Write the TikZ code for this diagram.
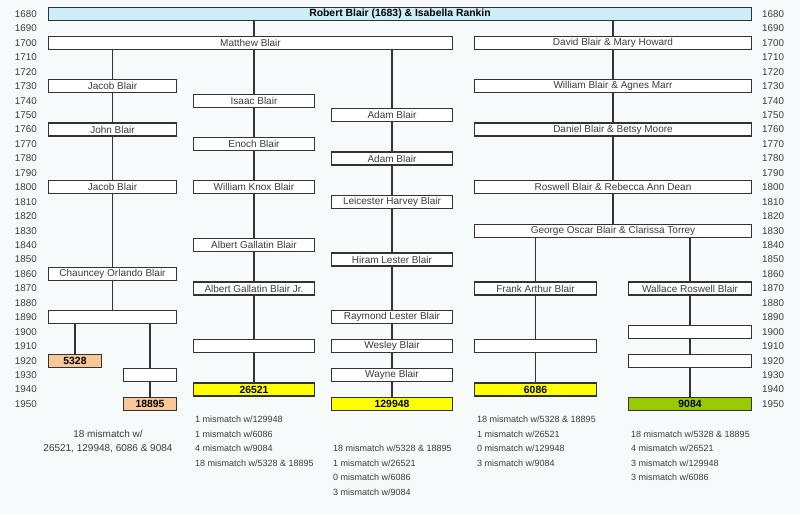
\documentclass[tikz,border=0pt]{standalone}
\usepackage{fontspec}
\setmainfont{Liberation Sans}
\definecolor{kinbg}{RGB}{247,250,250}
\definecolor{kinblue}{RGB}{204,238,248}
\definecolor{kinpeach}{RGB}{248,200,152}
\definecolor{kinyellow}{RGB}{255,255,0}
\definecolor{kingreen}{RGB}{153,204,0}
\definecolor{kinline}{RGB}{51,51,51}
\definecolor{kintext}{RGB}{60,60,60}

\begin{document}
\begin{tikzpicture}[x=1pt,y=1pt,
    person/.style={draw=kinline,line width=1.2pt,fill=white,minimum height=13pt,
        inner sep=0pt,font=\fontsize{10}{12}\selectfont,text=kintext},
    kit/.style={person,font=\fontsize{10.4}{12}\selectfont\bfseries,text=black},
    yearlbl/.style={font=\fontsize{9.8}{12}\selectfont,text=kintext,inner sep=0pt},
    note/.style={font=\fontsize{9}{11}\selectfont,text=kintext,inner sep=0pt,anchor=west},
    link/.style={draw=kinline,line width=1.2pt}]
    \fill[kinbg] (0,0) rectangle (800,-514);

    % one year = 1.4444pt, 1680 sits 14pt below the top edge
    \begin{scope}[y=-1.4444pt,yshift=2412.6pt]
    \foreach \yr in {1680,1690,...,1950} {
        \node[yearlbl,anchor=east] (yl\yr) at (37,\yr) {\yr};
        \node[yearlbl,anchor=west] (yr\yr) at (762,\yr) {\yr};
    }

    \node[kit,fill=kinblue,minimum width=703pt] (robert) at (400,1680) {Robert Blair (1683) \& Isabella Rankin};
    \node[person,minimum width=404pt] (matthew) at (250.5,1700) {Matthew Blair};
    \node[person,minimum width=277pt] (david) at (613,1700) {David Blair \& Mary Howard};

    % Jacob line
    \node[person,minimum width=128pt] (jacobA) at (112.5,1730) {Jacob Blair};
    \node[person,minimum width=128pt] (john) at (112.5,1760) {John Blair};
    \node[person,minimum width=128pt] (jacobB) at (112.5,1800) {Jacob Blair};
    \node[person,minimum width=128pt] (chauncey) at (112.5,1860) {Chauncey Orlando Blair};
    \node[person,minimum width=128pt] (blankA) at (112.5,1890) {};
    \node[kit,fill=kinpeach,minimum width=53pt] (k5328) at (75,1920) {5328};
    \node[person,minimum width=53pt] (blankB) at (150,1930) {};
    \node[kit,fill=kinpeach,minimum width=53pt] (k18895) at (150,1950) {18895};

    % Isaac line
    \node[person,minimum width=121pt] (isaac) at (254,1740) {Isaac Blair};
    \node[person,minimum width=121pt] (enoch) at (254,1770) {Enoch Blair};
    \node[person,minimum width=121pt] (wknox) at (254,1800) {William Knox Blair};
    \node[person,minimum width=121pt] (albert) at (254,1840) {Albert Gallatin Blair};
    \node[person,minimum width=121pt] (albertjr) at (254,1870) {Albert Gallatin Blair Jr.};
    \node[person,minimum width=121pt] (blankC) at (254,1910) {};
    \node[kit,fill=kinyellow,minimum width=121pt] (k26521) at (254,1940) {26521};

    % Adam line
    \node[person,minimum width=121pt] (adamA) at (392,1750) {Adam Blair};
    \node[person,minimum width=121pt] (adamB) at (392,1780) {Adam Blair};
    \node[person,minimum width=121pt] (leicester) at (392,1810) {Leicester Harvey Blair};
    \node[person,minimum width=121pt] (hiram) at (392,1850) {Hiram Lester Blair};
    \node[person,minimum width=121pt] (raymond) at (392,1890) {Raymond Lester Blair};
    \node[person,minimum width=121pt] (wesley) at (392,1910) {Wesley Blair};
    \node[person,minimum width=121pt] (wayne) at (392,1930) {Wayne Blair};
    \node[kit,fill=kinyellow,minimum width=121pt] (k129948) at (392,1950) {129948};

    % David line
    \node[person,minimum width=277pt] (william) at (613,1730) {William Blair \& Agnes Marr};
    \node[person,minimum width=277pt] (daniel) at (613,1760) {Daniel Blair \& Betsy Moore};
    \node[person,minimum width=277pt] (roswell) at (613,1800) {Roswell Blair \& Rebecca Ann Dean};
    \node[person,minimum width=277pt] (george) at (613,1830) {George Oscar Blair \& Clarissa Torrey};
    \node[person,minimum width=122pt] (frank) at (535.5,1870) {Frank Arthur Blair};
    \node[person,minimum width=122pt] (blankD) at (535.5,1910) {};
    \node[kit,fill=kinyellow,minimum width=122pt] (k6086) at (535.5,1940) {6086};
    \node[person,minimum width=123pt] (wallace) at (690,1870) {Wallace Roswell Blair};
    \node[person,minimum width=123pt] (blankE) at (690,1900) {};
    \node[person,minimum width=123pt] (blankF) at (690,1920) {};
    \node[kit,fill=kingreen,minimum width=123pt] (k9084) at (690,1950) {9084};

    \draw[link] (robert.south -| isaac) -- (matthew.north -| isaac);
    \draw[link] (robert.south -| david) -- (david);
    \draw[link] (matthew.south -| jacobA) -- (jacobA) -- (john) -- (jacobB) -- (chauncey) -- (blankA);
    \draw[link] (blankA.south -| k5328) -- (k5328);
    \draw[link] (blankA.south -| blankB) -- (blankB) -- (k18895);
    \draw[link] (matthew.south -| isaac) -- (isaac) -- (enoch) -- (wknox) -- (albert) -- (albertjr) -- (blankC) -- (k26521);
    \draw[link] (matthew.south -| adamA) -- (adamA) -- (adamB) -- (leicester) -- (hiram) -- (raymond) -- (wesley) -- (wayne) -- (k129948);
    \draw[link] (david) -- (william) -- (daniel) -- (roswell) -- (george);
    \draw[link] (george.south -| frank) -- (frank) -- (blankD) -- (k6086);
    \draw[link] (george.south -| wallace) -- (wallace) -- (blankE) -- (blankF) -- (k9084);

    % mismatch notes
    \node[note,anchor=center,font=\fontsize{10}{12}\selectfont] (noteA1) at (108,1970.8) {18 mismatch w/};
    \node[note,anchor=center,font=\fontsize{10}{12}\selectfont] (noteA2) at (108,1981.2) {26521, 129948, 6086 \& 9084};

    \node[note] (noteB1) at (195,1960.5) {1 mismatch w/129948};
    \node[note] (noteB2) at (195,1970.8) {1 mismatch w/6086};
    \node[note] (noteB3) at (195,1981) {4 mismatch w/9084};
    \node[note] (noteB4) at (195,1991) {18 mismatch w/5328 \& 18895};

    \node[note] (noteC1) at (333,1981) {18 mismatch w/5328 \& 18895};
    \node[note] (noteC2) at (333,1991) {1 mismatch w/26521};
    \node[note] (noteC3) at (333,2001) {0 mismatch w/6086};
    \node[note] (noteC4) at (333,2011) {3 mismatch w/9084};

    \node[note] (noteD1) at (477,1960.5) {18 mismatch w/5328 \& 18895};
    \node[note] (noteD2) at (477,1970.8) {1 mismatch w/26521};
    \node[note] (noteD3) at (477,1981) {0 mismatch w/129948};
    \node[note] (noteD4) at (477,1991) {3 mismatch w/9084};

    \node[note] (noteE1) at (631,1970.8) {18 mismatch w/5328 \& 18895};
    \node[note] (noteE2) at (631,1981) {4 mismatch w/26521};
    \node[note] (noteE3) at (631,1991) {3 mismatch w/129948};
    \node[note] (noteE4) at (631,2001) {3 mismatch w/6086};
    \end{scope}
\end{tikzpicture}
\end{document}
